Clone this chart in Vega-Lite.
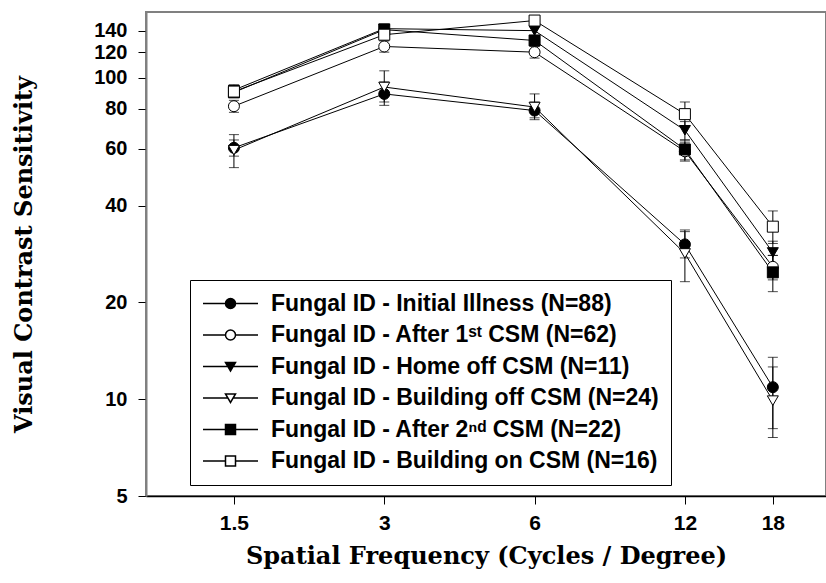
{
  "$schema": "https://vega.github.io/schema/vega-lite/v6.json",
  "width": 680,
  "height": 484,
  "autosize": {"type": "none"},
  "padding": {"left": 146, "top": 12, "right": 0, "bottom": 87},
  "background": "white",
  "data": {
    "values": [
      {"series": "Fungal ID - Initial Illness (N=88)", "freq": 1.5, "cs": 60.5, "lo": 57, "hi": 64},
      {"series": "Fungal ID - Initial Illness (N=88)", "freq": 3, "cs": 89, "lo": 82, "hi": 97},
      {"series": "Fungal ID - Initial Illness (N=88)", "freq": 6, "cs": 79, "lo": 75, "hi": 84},
      {"series": "Fungal ID - Initial Illness (N=88)", "freq": 12, "cs": 30.3, "lo": 27.5, "hi": 33.2},
      {"series": "Fungal ID - Initial Illness (N=88)", "freq": 18, "cs": 10.9, "lo": 8.1, "hi": 13.5},
      {"series": "Fungal ID - After 1ˢᵗ CSM (N=62)", "freq": 1.5, "cs": 81.5, "lo": 78, "hi": 85},
      {"series": "Fungal ID - After 1ˢᵗ CSM (N=62)", "freq": 3, "cs": 125, "lo": 120, "hi": 130},
      {"series": "Fungal ID - After 1ˢᵗ CSM (N=62)", "freq": 6, "cs": 120, "lo": 115, "hi": 125},
      {"series": "Fungal ID - After 1ˢᵗ CSM (N=62)", "freq": 12, "cs": 59, "lo": 55, "hi": 63},
      {"series": "Fungal ID - After 1ˢᵗ CSM (N=62)", "freq": 18, "cs": 25.8, "lo": 23.5, "hi": 28},
      {"series": "Fungal ID - Home off CSM (N=11)", "freq": 1.5, "cs": 91.5, "lo": 88, "hi": 95},
      {"series": "Fungal ID - Home off CSM (N=11)", "freq": 3, "cs": 142, "lo": 138, "hi": 146},
      {"series": "Fungal ID - Home off CSM (N=11)", "freq": 6, "cs": 140, "lo": 135, "hi": 145},
      {"series": "Fungal ID - Home off CSM (N=11)", "freq": 12, "cs": 68.6, "lo": 64, "hi": 73},
      {"series": "Fungal ID - Home off CSM (N=11)", "freq": 18, "cs": 28.6, "lo": 26, "hi": 31},
      {"series": "Fungal ID - Building off CSM (N=24)", "freq": 1.5, "cs": 59.5, "lo": 52.5, "hi": 66.5},
      {"series": "Fungal ID - Building off CSM (N=24)", "freq": 3, "cs": 93.5, "lo": 84, "hi": 105},
      {"series": "Fungal ID - Building off CSM (N=24)", "freq": 6, "cs": 81, "lo": 74, "hi": 89},
      {"series": "Fungal ID - Building off CSM (N=24)", "freq": 12, "cs": 28.4, "lo": 23.2, "hi": 33.6},
      {"series": "Fungal ID - Building off CSM (N=24)", "freq": 18, "cs": 9.9, "lo": 7.6, "hi": 12.6},
      {"series": "Fungal ID - After 2ⁿᵈ CSM (N=22)", "freq": 1.5, "cs": 90, "lo": 87, "hi": 93},
      {"series": "Fungal ID - After 2ⁿᵈ CSM (N=22)", "freq": 3, "cs": 141, "lo": 137, "hi": 145},
      {"series": "Fungal ID - After 2ⁿᵈ CSM (N=22)", "freq": 6, "cs": 130.5, "lo": 126, "hi": 135},
      {"series": "Fungal ID - After 2ⁿᵈ CSM (N=22)", "freq": 12, "cs": 59.8, "lo": 55.5, "hi": 64},
      {"series": "Fungal ID - After 2ⁿᵈ CSM (N=22)", "freq": 18, "cs": 24.8, "lo": 21.6, "hi": 28},
      {"series": "Fungal ID - Building on CSM (N=16)", "freq": 1.5, "cs": 90.5, "lo": 87, "hi": 94},
      {"series": "Fungal ID - Building on CSM (N=16)", "freq": 3, "cs": 136, "lo": 131, "hi": 141},
      {"series": "Fungal ID - Building on CSM (N=16)", "freq": 6, "cs": 150.5, "lo": 146, "hi": 155},
      {"series": "Fungal ID - Building on CSM (N=16)", "freq": 12, "cs": 77, "lo": 70.5, "hi": 84},
      {"series": "Fungal ID - Building on CSM (N=16)", "freq": 18, "cs": 34.4, "lo": 30.5, "hi": 38.5}
    ]
  },
  "encoding": {
    "x": {
      "field": "freq", "type": "quantitative",
      "title": "Spatial Frequency (Cycles / Degree)",
      "scale": {"type": "log", "domain": [1, 23], "nice": false},
      "axis": {"values": [1.5, 3, 6, 12, 18], "format": "~g", "labelFontSize": 21}
    }
  },
  "layer": [
    {
      "mark": {"type": "errorbar", "ticks": {"size": 10, "color": "black"}, "rule": {"color": "black", "strokeWidth": 1}},
      "encoding": {
        "y": {"field": "lo", "type": "quantitative", "title": "Visual Contrast Sensitivity",
              "scale": {"type": "log", "domain": [5, 160], "nice": false},
              "axis": {"values": [5, 10, 20, 40, 60, 80, 100, 120, 140], "format": "~g", "labelOverlap": false}},
        "y2": {"field": "hi"},
        "detail": {"field": "series"}
      }
    },
    {
      "mark": {"type": "line", "color": "black", "strokeWidth": 1},
      "encoding": {
        "y": {"field": "cs", "type": "quantitative", "title": "Visual Contrast Sensitivity",
              "scale": {"type": "log", "domain": [5, 160], "nice": false},
              "axis": {"values": [5, 10, 20, 40, 60, 80, 100, 120, 140], "format": "~g", "labelOverlap": false}},
        "detail": {"field": "series"}
      }
    },
    {
      "mark": {"type": "point", "filled": true, "stroke": "black", "strokeWidth": 1, "size": 121, "opacity": 1},
      "encoding": {
        "y": {"field": "cs", "type": "quantitative", "title": "Visual Contrast Sensitivity",
              "scale": {"type": "log", "domain": [5, 160], "nice": false},
              "axis": {"values": [5, 10, 20, 40, 60, 80, 100, 120, 140], "format": "~g", "labelOverlap": false}},
        "shape": {
          "field": "series", "type": "nominal", "legend": null,
          "scale": {
            "domain": ["Fungal ID - Initial Illness (N=88)", "Fungal ID - After 1ˢᵗ CSM (N=62)", "Fungal ID - Home off CSM (N=11)", "Fungal ID - Building off CSM (N=24)", "Fungal ID - After 2ⁿᵈ CSM (N=22)", "Fungal ID - Building on CSM (N=16)"],
            "range": ["circle", "circle", "triangle-down", "triangle-down", "square", "square"]
          }
        },
        "fill": {
          "field": "series", "type": "nominal", "legend": null,
          "scale": {
            "domain": ["Fungal ID - Initial Illness (N=88)", "Fungal ID - After 1ˢᵗ CSM (N=62)", "Fungal ID - Home off CSM (N=11)", "Fungal ID - Building off CSM (N=24)", "Fungal ID - After 2ⁿᵈ CSM (N=22)", "Fungal ID - Building on CSM (N=16)"],
            "range": ["black", "white", "black", "white", "black", "white"]
          }
        }
      }
    },
    {
      "mark": {"type": "point", "filled": true, "stroke": "black", "strokeWidth": 1, "size": 100, "opacity": 0},
      "encoding": {
        "y": {"field": "cs", "type": "quantitative", "title": "Visual Contrast Sensitivity",
              "scale": {"type": "log", "domain": [5, 160], "nice": false},
              "axis": {"values": [5, 10, 20, 40, 60, 80, 100, 120, 140], "format": "~g", "labelOverlap": false}},
        "shape": {
          "field": "series", "type": "nominal",
          "scale": {
            "domain": ["Fungal ID - Initial Illness (N=88)", "Fungal ID - After 1ˢᵗ CSM (N=62)", "Fungal ID - Home off CSM (N=11)", "Fungal ID - Building off CSM (N=24)", "Fungal ID - After 2ⁿᵈ CSM (N=22)", "Fungal ID - Building on CSM (N=16)"],
            "range": [
              "M-5.5,0H-1M1,0H5.5M-1,0A1,1 0 1,0 1,0A1,1 0 1,0 -1,0",
              "M-5.5,0H-1M1,0H5.5M-1,0A1,1 0 1,0 1,0A1,1 0 1,0 -1,0",
              "M-5.5,0H-0.53M0.53,0H5.5M-1,-0.8L1,-0.8L0,0.9Z",
              "M-5.5,0H-0.53M0.53,0H5.5M-1,-0.8L1,-0.8L0,0.9Z",
              "M-5.5,0H-1M1,0H5.5M-1,-1H1V1H-1Z",
              "M-5.5,0H-1M1,0H5.5M-1,-1H1V1H-1Z"
            ]
          },
          "legend": {
            "title": null,
            "orient": "none",
            "legendX": 44,
            "legendY": 268,
            "strokeColor": "black",
            "fillColor": "white",
            "padding": 12,
            "rowPadding": 7.5,
            "symbolSize": 100,
            "symbolOffset": 17,
            "labelOffset": 29,
            "symbolOpacity": 1,
            "labelFont": "Liberation Sans",
            "labelFontWeight": "bold",
            "labelFontSize": 23,
            "labelColor": "black",
            "labelLimit": 0,
            "encode": {"symbols": {"update": {"stroke": {"value": "black"}, "strokeWidth": {"value": 1}, "opacity": {"value": 1}}}}
          }
        },
        "fill": {
          "field": "series", "type": "nominal",
          "scale": {
            "domain": ["Fungal ID - Initial Illness (N=88)", "Fungal ID - After 1ˢᵗ CSM (N=62)", "Fungal ID - Home off CSM (N=11)", "Fungal ID - Building off CSM (N=24)", "Fungal ID - After 2ⁿᵈ CSM (N=22)", "Fungal ID - Building on CSM (N=16)"],
            "range": ["black", "white", "black", "white", "black", "white"]
          },
          "legend": {
            "title": null,
            "orient": "none",
            "legendX": 44,
            "legendY": 268,
            "strokeColor": "black",
            "fillColor": "white",
            "padding": 12,
            "rowPadding": 7.5,
            "symbolSize": 100,
            "symbolOffset": 17,
            "labelOffset": 29,
            "symbolOpacity": 1,
            "labelFont": "Liberation Sans",
            "labelFontWeight": "bold",
            "labelFontSize": 23,
            "labelColor": "black",
            "labelLimit": 0,
            "encode": {"symbols": {"update": {"stroke": {"value": "black"}, "strokeWidth": {"value": 1}, "opacity": {"value": 1}}}}
          }
        }
      }
    }
  ],
  "resolve": {"scale": {"shape": "independent", "fill": "independent"}},
  "config": {
    "view": {"stroke": "#808080", "strokeWidth": 2},
    "axis": {
      "grid": false,
      "labelFont": "Liberation Sans",
      "labelFontWeight": "bold",
      "labelFontSize": 20,
      "labelColor": "black",
      "titleFont": "DejaVu Serif",
      "titleFontWeight": "bold",
      "titleFontSize": 24,
      "titleColor": "black",
      "tickColor": "black",
      "tickSize": 8
    },
    "axisX": {"domainColor": "black", "domainWidth": 1.5, "labelPadding": 8, "titlePadding": 11},
    "axisY": {"domainColor": "#808080", "domainWidth": 2, "labelPadding": 11, "titlePadding": 57, "labelOverlap": false}
  }
}
